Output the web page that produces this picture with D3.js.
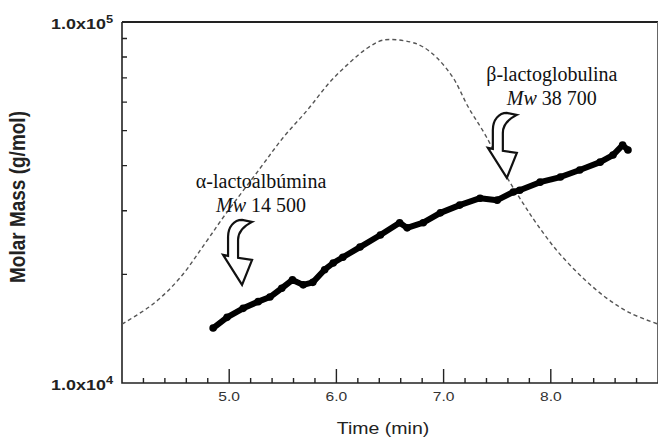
<!DOCTYPE html>
<html>
<head>
<meta charset="utf-8">
<script src="https://cdn.jsdelivr.net/npm/d3@7"></script>
<style>
  body { margin: 0; background: #fff; }
  svg { display: block; }
</style>
</head>
<body>
<div id="chart"></div>
<script>
// Molar mass trace (black)
const massTime = [4.85, 4.98, 5.13, 5.27, 5.38, 5.49, 5.59, 5.69, 5.78, 5.89, 5.97, 6.06, 6.22, 6.41, 6.59, 6.66, 6.81, 6.97, 7.15, 7.34, 7.50, 7.65, 7.71, 7.90, 8.09, 8.27, 8.46, 8.58, 8.67, 8.72]
const massValue = [14200, 15200, 16100, 16800, 17300, 18300, 19300, 18700, 19000, 20600, 21500, 22300, 23800, 25700, 27800, 26900, 27800, 29600, 31100, 32500, 32100, 33800, 34200, 36000, 37200, 38900, 40900, 42800, 45600, 44200]

// Detector signal (dashed), same axes
const signalTime = [4.00, 4.29, 4.54, 4.79, 4.96, 5.29, 5.50, 5.73, 5.94, 6.13, 6.29, 6.44, 6.69, 6.81, 6.94, 7.09, 7.23, 7.40, 7.59, 7.74, 7.87, 8.06, 8.30, 8.52, 8.74, 9.00]
const signalValue = [14560, 16550, 19540, 24730, 29190, 39400, 47700, 57060, 68200, 77480, 84720, 89140, 88040, 85240, 79450, 69960, 58150, 48030, 37210, 31520, 27570, 23210, 19540, 17190, 15630, 14560]

const xMajor = [5, 6, 7, 8]
const xMajorLabels = ["5.0", "6.0", "7.0", "8.0"]
const yMinor = [20000, 30000, 40000, 50000, 60000, 70000, 80000, 90000]

// arrows: tip position in data units, then the two text lines
const noteTime = [5.12, 7.59]
const noteValue = [18700, 37000]
const noteName = ["α-lactoalbúmina", "β-lactoglobulina"]
const noteMw = ["14 500", "38 700"]

const width = 659, height = 442
const margin = { top: 22, right: 1, bottom: 59, left: 122 }
const sans = "Liberation Sans, Arial, sans-serif"
const serif = "Liberation Serif, Times New Roman, serif"

const svg = d3.select("#chart").append("svg")
  .attr("width", width)
  .attr("height", height)

const x = d3.scaleLinear().domain([4, 9]).range([margin.left, width - margin.right])
const y = d3.scaleLog().domain([1e4, 1e5]).range([height - margin.bottom, margin.top])
const x0 = margin.left, x1 = width - margin.right
const y0 = height - margin.bottom, y1 = margin.top

// frame: top line is heavy, right side thin and grey
svg.append("path")
  .attr("d", "M" + x0 + "," + y1 + "H" + x1)
  .attr("fill", "none").attr("stroke", "#222").attr("stroke-width", 2)
svg.append("path")
  .attr("d", "M" + (x1 - 0.5) + "," + y1 + "V" + y0)
  .attr("fill", "none").attr("stroke", "#666").attr("stroke-width", 1)

// axis lines
svg.append("path")
  .attr("d", "M" + x0 + "," + y1 + "V" + y0 + "H" + x1)
  .attr("fill", "none").attr("stroke", "#222").attr("stroke-width", 1.6)

// ticks, all pointing inward
const xTicks = d3.range(21, 45).map(i => i / 5)
const isMajor = d => Math.abs(d - Math.round(d)) < 0.01
svg.append("path")
  .attr("d", xTicks.map(d => "M" + x(d) + "," + y0 + "V" + (y0 - (isMajor(d) ? 14 : 5))).join(""))
  .attr("fill", "none").attr("stroke", "#222").attr("stroke-width", 1.4)

svg.append("path")
  .attr("d", yMinor.map(d => "M" + x0 + "," + y(d) + "H" + (x0 + 5)).join(""))
  .attr("fill", "none").attr("stroke", "#222").attr("stroke-width", 1.3)

// x tick labels (the sans text in the picture is stretched sideways)
svg.selectAll(".xlab")
  .data(xMajor)
  .enter()
  .append("text")
  .attr("transform", d => "translate(" + x(d) + "," + (y0 + 18) + ") scale(1.3,1)")
  .attr("text-anchor", "middle")
  .attr("font-family", sans)
  .attr("font-size", 12).attr("fill", "#333")
  .text((d, i) => xMajorLabels[i])

// end labels 1.0x10^4 and 1.0x10^5
const yEnds = [1e4, 1e5]
const yEndExp = ["4", "5"]
yEnds.forEach((v, i) => {
  const t = svg.append("text")
    .attr("transform", "translate(" + (x0 - 9) + "," + (y(v) + 6.5) + ") scale(1.28,1)")
    .attr("text-anchor", "end")
    .attr("font-family", sans)
    .attr("font-weight", "bold")
    .attr("font-size", 14)
    .attr("fill", "#222")
  t.append("tspan").text("1.0x10")
  t.append("tspan").attr("dy", -6).attr("font-size", 10).text(yEndExp[i])
})

// axis titles
svg.append("text")
  .attr("transform", "translate(383,434) scale(1.22,1)")
  .attr("text-anchor", "middle")
  .attr("font-family", sans)
  .attr("font-size", 16).attr("fill", "#222")
  .text("Time (min)")

svg.append("text")
  .attr("transform", "translate(25,197) scale(1.2,1) rotate(-90)")
  .attr("text-anchor", "middle")
  .attr("font-family", sans)
  .attr("font-weight", "bold")
  .attr("font-size", 19).attr("fill", "#222")
  .text("Molar Mass (g/mol)")

// dashed signal
const signal = signalTime.map((t, i) => [t, signalValue[i]])
svg.append("path")
  .datum(signal)
  .attr("fill", "none")
  .attr("stroke", "#555")
  .attr("stroke-width", 1.4)
  .attr("stroke-dasharray", "4,3")
  .attr("d", d3.line().x(d => x(d[0])).y(d => y(d[1])).curve(d3.curveCatmullRom))

// thick molar mass trace
const mass = massTime.map((t, i) => [t, massValue[i]])
svg.append("path")
  .datum(mass)
  .attr("fill", "none")
  .attr("stroke", "#000")
  .attr("stroke-width", 6)
  .attr("stroke-linejoin", "round")
  .attr("stroke-linecap", "round")
  .attr("d", d3.line().x(d => x(d[0])).y(d => y(d[1])))
svg.selectAll(".pt")
  .data(mass)
  .enter()
  .append("circle")
  .attr("cx", d => x(d[0]))
  .attr("cy", d => y(d[1]))
  .attr("r", 3.8)
  .attr("fill", "#000")

// hollow curved arrows and their labels
const arrowShape = "M0,0 L-19,-30 L-14,-29 L-14,-48 C-14,-58 -8,-65 0,-65 L10,-63 C4,-60 -4,-55 -4,-45 L-4,-27 L10,-25 Z"
noteTime.forEach((t, i) => {
  const px = x(t), py = y(noteValue[i])
  svg.append("path")
    .attr("transform", "translate(" + px + "," + py + ")")
    .attr("d", arrowShape)
    .attr("fill", "#fff")
    .attr("stroke", "#111")
    .attr("stroke-width", 2.2)
    .attr("stroke-linejoin", "miter")

  const cx = px + (i === 0 ? 19 : 45)
  svg.append("text")
    .attr("x", cx).attr("y", py - 97)
    .attr("text-anchor", "middle")
    .attr("font-family", serif)
    .attr("font-size", 20).attr("fill", "#111")
    .text(noteName[i])
  const m = svg.append("text")
    .attr("x", cx).attr("y", py - 73)
    .attr("text-anchor", "middle")
    .attr("font-family", serif)
    .attr("font-size", 20).attr("fill", "#111")
  m.append("tspan").attr("font-style", "italic").text("Mw")
  m.append("tspan").text(" " + noteMw[i])
})
</script>
</body>
</html>
